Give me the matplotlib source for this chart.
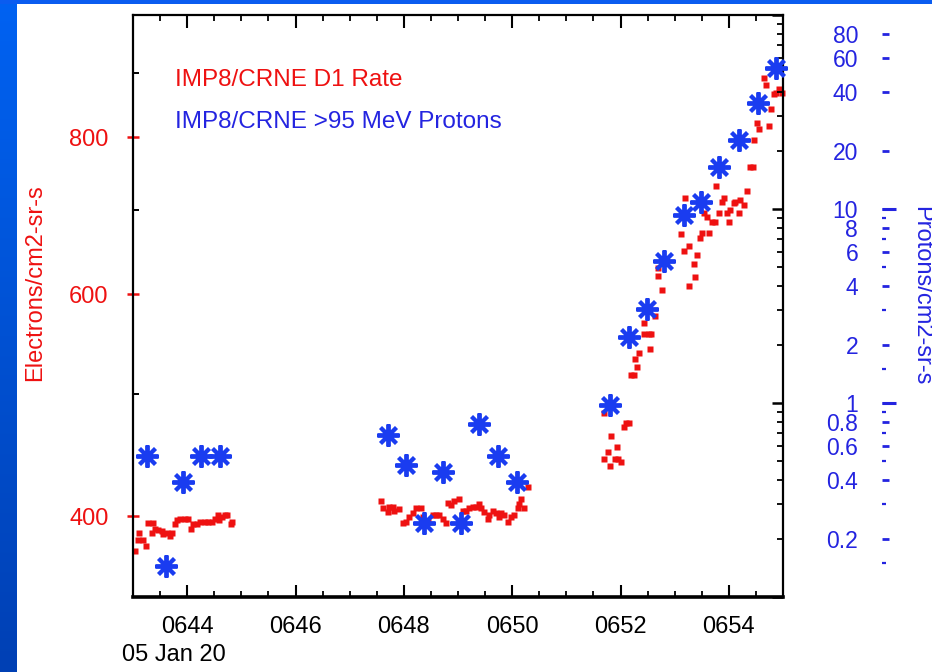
import matplotlib.pyplot as plt
import numpy as np
from matplotlib.ticker import FixedLocator, FuncFormatter, NullFormatter, NullLocator, MultipleLocator

plt.rcParams['font.family'] = ['Liberation Sans', 'DejaVu Sans']

# IMP8/CRNE D1 electron rate, time in minutes after 06:00 UT
e_time = [43.04, 43.09, 43.11, 43.19, 43.24, 43.28, 43.35, 43.37, 43.41, 43.46,
          43.54, 43.56, 43.63, 43.69, 43.72, 43.78, 43.81, 43.87, 43.96, 44.02,
          44.07, 44.11, 44.19, 44.24, 44.33, 44.39, 44.46, 44.52, 44.56, 44.59,
          44.65, 44.70, 44.74, 44.80, 44.83,
          47.57, 47.61, 47.70, 47.72, 47.80, 47.81, 47.91, 47.98, 48.04, 48.09,
          48.17, 48.22, 48.31, 48.35, 48.44, 48.54, 48.59, 48.65, 48.72, 48.78,
          48.81, 48.87, 48.93, 49.02, 49.09, 49.15, 49.20, 49.28, 49.33, 49.39,
          49.43, 49.48, 49.56, 49.57, 49.65, 49.70, 49.76, 49.80, 49.85, 49.93,
          49.98, 50.04, 50.11, 50.13, 50.17, 50.22, 50.30,
          51.69, 51.70, 51.76, 51.80, 51.83, 51.89, 51.93, 51.96, 52.00, 52.06,
          52.11, 52.15, 52.20, 52.24, 52.26, 52.30, 52.35, 52.43, 52.44, 52.52,
          52.54, 52.57, 52.63, 52.69, 52.70, 52.76, 53.11, 53.17, 53.19, 53.26,
          53.27, 53.35, 53.37, 53.41, 53.46, 53.50, 53.54, 53.59, 53.63, 53.69,
          53.74, 53.76, 53.81, 53.87, 53.91, 53.96, 54.00, 54.02, 54.09, 54.11,
          54.19, 54.20, 54.28, 54.33, 54.39, 54.44, 54.46, 54.52, 54.56, 54.65,
          54.69, 54.74, 54.78, 54.83, 54.87, 54.93, 54.98]
e_rate = [375, 383, 388, 383, 379, 395, 388, 395, 391, 390,
          389, 387, 388, 386, 388, 394, 397, 398, 398, 398,
          391, 394, 394, 396, 396, 396, 396, 398, 401, 397,
          399, 401, 401, 394, 396,
          411, 406, 403, 407, 407, 404, 405, 395, 396, 399,
          402, 406, 406, 399, 396, 401, 401, 401, 398, 395,
          410, 408, 411, 413, 404, 404, 406, 407, 407, 409,
          406, 403, 398, 401, 404, 402, 399, 402, 401, 396,
          399, 401, 406, 409, 413, 406, 422,
          444, 483, 450, 438, 463, 444, 454, 444, 442, 471,
          474, 474, 518, 518, 533, 525, 539, 569, 558, 558,
          543, 558, 577, 630, 620, 605, 670, 650, 716, 655,
          609, 634, 619, 645, 665, 671, 696, 691, 671, 685,
          685, 731, 696, 711, 716, 696, 685, 700, 709, 711,
          696, 713, 707, 725, 757, 757, 796, 821, 812, 891,
          880, 816, 842, 866, 867, 873, 867]

# IMP8/CRNE >95 MeV protons
p_time = [43.26, 43.61, 43.93, 44.26, 44.61, 47.70, 48.04, 48.37, 48.72, 49.06,
          49.39, 49.74, 50.09, 51.81, 52.15, 52.48, 52.81, 53.17, 53.48, 53.81,
          54.19, 54.54, 54.87]
p_flux = [0.53, 0.145, 0.39, 0.53, 0.53, 0.68, 0.48, 0.24, 0.44, 0.24,
          0.78, 0.53, 0.39, 0.98, 2.19, 3.05, 5.39, 9.3, 10.9, 16.4,
          22.7, 35.1, 53.3]

e_ticks = [400, 600, 800]
p_labeled = [0.2, 0.4, 0.6, 0.8, 1, 2, 4, 6, 8, 10, 20, 40, 60, 80]
p_small = [0.15, 0.3, 0.5, 0.7, 0.9, 1.5, 3, 5, 7, 9]
p_long = [1, 10]

RED = '#ee1111'
BLUE = '#1a3cf0'
TXT_BLUE = '#2424e0'
FS = 17

fig = plt.figure(figsize=(9.32, 6.72), dpi=100)
fig.patch.set_facecolor('white')

# slide background strips
grad = np.linspace(0, 1, 256).reshape(-1, 1)
bg = fig.add_axes([0, 0, 17 / 932, 1])
bg.imshow(grad, aspect='auto', cmap=plt.matplotlib.colors.LinearSegmentedColormap.from_list(
    'slide', ['#0062f2', '#0040b4']), extent=[0, 1, 0, 1], origin='upper')
bg.axis('off')
band = fig.add_axes([0, 1 - 4 / 672, 1, 4 / 672])
band.set_facecolor('#0a5cf0')
band.set_xticks([])
band.set_yticks([])
for s in band.spines.values():
    s.set_visible(False)

ax = fig.add_axes([133 / 932, 75 / 672, 650 / 932, 582 / 672])
ax2 = ax.twinx()
ax3 = ax.twinx()
ax4 = ax.twinx()

# electrons, left log axis
ax.set_yscale('log')
ax.set_ylim(345, 1000)
ax.set_xlim(43, 55)
ax.plot(e_time, e_rate, 's', color=RED, ms=4.2, mec='none', clip_on=False)
ax.yaxis.set_major_locator(FixedLocator(e_ticks))
ax.yaxis.set_major_formatter(FuncFormatter(lambda v, p: f'{v:.0f}'))
ax.yaxis.set_minor_locator(FixedLocator([500, 700, 900]))
ax.yaxis.set_minor_formatter(NullFormatter())
ax.tick_params(axis='y', which='major', direction='inout', length=9, width=1.8,
               color=RED, labelcolor=RED, labelsize=FS, pad=13)
ax.tick_params(axis='y', which='minor', direction='in', length=4, width=1.4, color='black')

ax.xaxis.set_major_locator(MultipleLocator(2))
ax.xaxis.set_minor_locator(MultipleLocator(0.5))
ax.xaxis.set_major_formatter(FuncFormatter(lambda v, p: f'06{int(round(v)):02d}'))
ax.tick_params(axis='x', which='major', direction='in', length=9, width=1.5,
               top=True, labelsize=FS, pad=14)
ax.tick_params(axis='x', which='minor', direction='in', length=4.5, width=1.3, top=True)
for side in ['left', 'right', 'top']:
    ax.spines[side].set_linewidth(1.6)
ax.spines['bottom'].set_linewidth(2.6)

# protons, drawn on log scale with frame ticks on the right spine
for a in (ax2, ax3, ax4):
    a.set_yscale('log')
    a.set_ylim(0.1, 100)
    for s in a.spines.values():
        s.set_visible(False)
ax2.plot(p_time, p_flux, linestyle='none', marker=(8, 2, 0), ms=16, mew=2.8,
         color=BLUE, clip_on=False)
ax2.yaxis.set_minor_formatter(NullFormatter())
ax2.tick_params(axis='y', which='major', direction='in', length=8, width=1.8, labelright=False)
ax2.tick_params(axis='y', which='minor', direction='in', length=4, width=1.3)

# detached labelled proton scale
for a in (ax3, ax4):
    a.spines['left'].set_position(('axes', 1.152))
    a.spines['right'].set_position(('axes', 1.152))
ax3.yaxis.set_major_locator(FixedLocator(p_labeled))
ax3.yaxis.set_major_formatter(FuncFormatter(lambda v, p: f'{v:g}'))
ax3.yaxis.set_minor_locator(FixedLocator(p_small))
ax3.yaxis.set_minor_formatter(NullFormatter())
ax3.tick_params(axis='y', which='both', left=False, right=True, labelleft=True,
                labelright=False, direction='out', colors=TXT_BLUE)
ax3.tick_params(axis='y', which='major', length=5, width=2, labelsize=16.5, pad=12)
ax3.tick_params(axis='y', which='minor', length=3, width=1.6)

ax4.yaxis.set_major_locator(FixedLocator(p_long))
ax4.yaxis.set_minor_locator(NullLocator())
ax4.tick_params(axis='y', which='major', left=False, right=True, labelleft=False,
                labelright=False, direction='out', length=10, width=2.2, colors=TXT_BLUE)

ax.text(0.0646, 0.888, 'IMP8/CRNE D1 Rate', transform=ax.transAxes,
        color=RED, fontsize=17.5, va='center', ha='left')
ax.text(0.0646, 0.816, 'IMP8/CRNE >95 MeV Protons', transform=ax.transAxes,
        color=TXT_BLUE, fontsize=17.5, va='center', ha='left')

fig.text(35 / 932, 1 - 283 / 672, 'Electrons/cm2-sr-s', rotation=90, color=RED,
         fontsize=FS, ha='center', va='center')
fig.text(921 / 932, 1 - 296 / 672, 'Protons/cm2-sr-s', rotation=270, color=TXT_BLUE,
         fontsize=FS, ha='center', va='center')
fig.text(122 / 932, 1 - 655 / 672, '05 Jan 20', fontsize=FS, ha='left', va='center')

fig.savefig('out.png', dpi=100, facecolor='white')
